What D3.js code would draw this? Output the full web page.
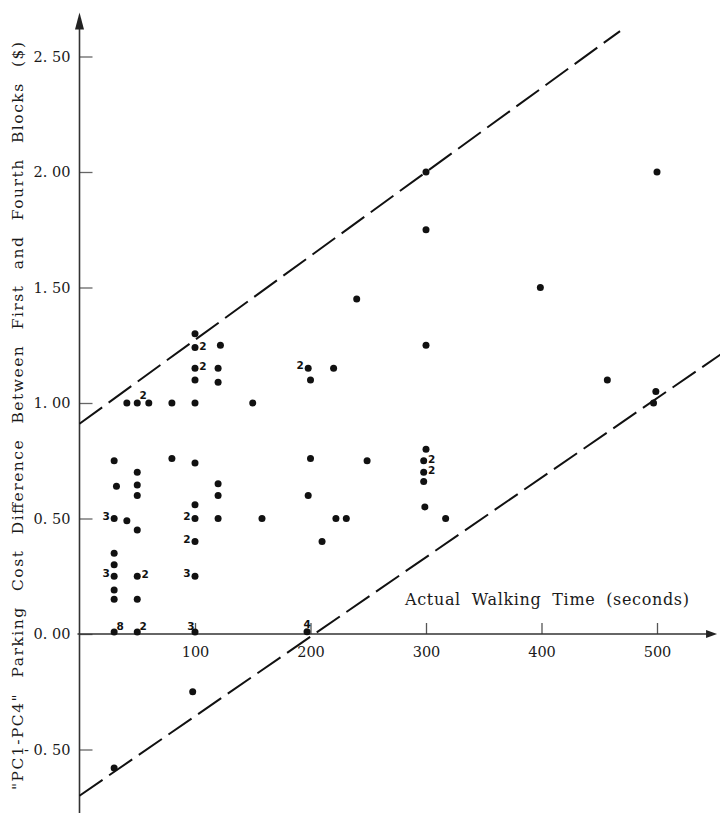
<!DOCTYPE html>
<html>
<head>
<meta charset="utf-8">
<script src="https://cdn.jsdelivr.net/npm/d3@7/dist/d3.min.js"></script>
<style>
  html, body { margin: 0; padding: 0; background: #fff; }
  svg { display: block; }
</style>
</head>
<body>
<svg id="chart" width="720" height="817"></svg>
<script>
// Observations: [walking time (s), PC1-PC4 cost difference ($)]
const observations = [
  [30, 0.75], [32, 0.64], [30, 0.50], [30, 0.35], [30, 0.30], [30, 0.25],
  [30, 0.19], [30, 0.15], [30, 0.00], [30, -0.58],
  [41, 1.00], [41, 0.49],
  [50, 1.00], [50, 0.70], [50, 0.645], [50, 0.60], [50, 0.45], [50, 0.25],
  [50, 0.15], [50, 0.00],
  [60, 1.00],
  [80, 1.00], [80, 0.76],
  [100, 1.30], [100, 1.24], [100, 1.15], [100, 1.10], [100, 1.00], [100, 0.74],
  [100, 0.56], [100, 0.50], [100, 0.40], [100, 0.25], [100, 0.00], [98, -0.25],
  [122, 1.25], [120, 1.15], [120, 1.09], [120, 0.65], [120, 0.60], [120, 0.50],
  [150, 1.00], [158, 0.50],
  [198, 1.15], [200, 1.10], [200, 0.76], [198, 0.60], [197, 0.01],
  [210, 0.40], [220, 1.15], [222, 0.50], [231, 0.50], [240, 1.45], [249, 0.75],
  [300, 2.00], [300, 1.75], [300, 1.25], [300, 0.80], [298, 0.75], [298, 0.70],
  [298, 0.66], [299, 0.55], [317, 0.50],
  [399, 1.50], [457, 1.10], [500, 2.00], [499, 1.05], [497, 1.00]
];

// Repeated observations: how many cases share a plotted point, and where the count sits
const repeats = [
  { x: 100, y: 1.24, n: 2, at: "r" },
  { x: 100, y: 1.15, n: 2, at: "r" },
  { x: 50, y: 1.00, n: 2, at: "t" },
  { x: 30, y: 0.50, n: 3, at: "l" },
  { x: 30, y: 0.25, n: 3, at: "l" },
  { x: 50, y: 0.25, n: 2, at: "r" },
  { x: 100, y: 0.50, n: 2, at: "l" },
  { x: 100, y: 0.40, n: 2, at: "l" },
  { x: 100, y: 0.25, n: 3, at: "l" },
  { x: 198, y: 1.15, n: 2, at: "l" },
  { x: 298, y: 0.75, n: 2, at: "r" },
  { x: 298, y: 0.70, n: 2, at: "r" },
  { x: 30, y: 0.00, n: 8, at: "t" },
  { x: 50, y: 0.00, n: 2, at: "t" },
  { x: 100, y: 0.00, n: 3, at: "tl" },
  { x: 197, y: 0.01, n: 4, at: "c" }
];

// Envelope lines bounding the scatter
const upperBound = [[0, 0.91], [468, 2.61]];
const lowerBound = [[0, -0.70], [555, 1.21]];

const xTicks = [100, 200, 300, 400, 500];
const yTicks = [-0.5, 0, 0.5, 1.0, 1.5, 2.0, 2.5];

const xTitle = "Actual Walking Time (seconds)";
const yTitle = "\"PC1-PC4\" Parking Cost Difference Between First and Fourth Blocks ($)";

const svg = d3.select("#chart");
const ink = "#1a1a1a";
const serif = "'DejaVu Serif', 'Liberation Serif', serif";

const x = d3.scaleLinear().domain([0, 500]).range([79.5, 657]);
const y = d3.scaleLinear().domain([0, 2.5]).range([634, 56.5]);

const fmtY = v => (v < 0 ? "- " : "") + Math.abs(v).toFixed(2).replace(".", ". ");

// Y axis ticks and labels
const yAxis = svg.append("g")
  .attr("transform", `translate(${x(0)},0)`)
  .call(d3.axisLeft(y).tickValues(yTicks).tickSize(-13).tickPadding(9).tickFormat(fmtY));
yAxis.select(".domain").remove();
yAxis.selectAll(".tick line").attr("stroke", "#666").attr("stroke-width", 1.3);
yAxis.selectAll(".tick text")
  .attr("fill", ink).attr("font-family", serif).attr("font-size", 14.5);

// X axis ticks and labels
const xAxis = svg.append("g")
  .attr("transform", `translate(0,${y(0)})`)
  .call(d3.axisBottom(x).tickValues(xTicks).tickSize(-11).tickPadding(13).tickFormat(d3.format("d")));
xAxis.select(".domain").remove();
xAxis.selectAll(".tick line").attr("stroke", "#555").attr("stroke-width", 1.3);
xAxis.selectAll(".tick text")
  .attr("fill", ink).attr("font-family", serif).attr("font-size", 14.5);

// Axis lines with arrowheads
const yTop = y(2.69), yBottom = y(-0.775), xRight = x(552);
svg.append("line")
  .attr("x1", x(0)).attr("x2", x(0)).attr("y1", yTop + 8).attr("y2", yBottom)
  .attr("stroke", "#333").attr("stroke-width", 1.6);
svg.append("path")
  .attr("d", `M${x(0)},${yTop} L${x(0) - 4.5},${yTop + 17} L${x(0) + 4.5},${yTop + 17} Z`)
  .attr("fill", "#222");
svg.append("line")
  .attr("x1", x(0) - 2).attr("x2", xRight - 6).attr("y1", y(0)).attr("y2", y(0))
  .attr("stroke", "#333").attr("stroke-width", 1.6);
svg.append("path")
  .attr("d", `M${xRight},${y(0)} L${xRight - 11},${y(0) - 4} L${xRight - 11},${y(0) + 4} Z`)
  .attr("fill", "#222");

// Dashed envelope lines
const line = d3.line().x(d => x(d[0])).y(d => y(d[1]));
[upperBound, lowerBound].forEach(seg => {
  svg.append("path")
    .attr("d", line(seg))
    .attr("fill", "none")
    .attr("stroke", "#111")
    .attr("stroke-width", 2)
    .attr("stroke-dasharray", "28,8");
});

// Points
svg.append("g").selectAll("circle")
  .data(observations)
  .join("circle")
  .attr("cx", d => x(d[0]))
  .attr("cy", d => y(d[1]) - (d[1] === 0 ? 2 : 0))
  .attr("r", 3.5)
  .attr("fill", "#111");

// Multiplicity counts
const offsets = { r: [8, -2], l: [-8, -3], t: [6, -8], tl: [-4, -8], c: [0, -8] };
svg.append("g").selectAll("text")
  .data(repeats)
  .join("text")
  .attr("x", d => x(d.x) + offsets[d.at][0])
  .attr("y", d => y(d.y) + offsets[d.at][1])
  .attr("text-anchor", "middle")
  .attr("dominant-baseline", "central")
  .attr("font-family", "'DejaVu Sans', sans-serif")
  .attr("font-weight", "bold")
  .attr("font-size", 10.5)
  .attr("fill", "#111")
  .text(d => d.n);

// Axis titles: share the extra room between word gaps and letters to fill a span
function spreadWords(sel, span) {
  const node = sel.node();
  const natural = node.getComputedTextLength();
  const gaps = (sel.text().match(/ /g) || []).length;
  if (gaps > 0 && natural < span) {
    sel.attr("word-spacing", 0.45 * (span - natural) / gaps);
  }
  sel.attr("textLength", span).attr("lengthAdjust", "spacing");
}

const xt = svg.append("text")
  .attr("x", 405).attr("y", 605)
  .attr("font-family", serif).attr("font-size", 16).attr("fill", ink)
  .text(xTitle);
spreadWords(xt, 284);

const yt = svg.append("text")
  .attr("transform", "translate(23,416) rotate(-90)")
  .attr("text-anchor", "middle")
  .attr("font-family", serif).attr("font-size", 15.5).attr("fill", ink)
  .text(yTitle);
spreadWords(yt, 748);
</script>
</body>
</html>
